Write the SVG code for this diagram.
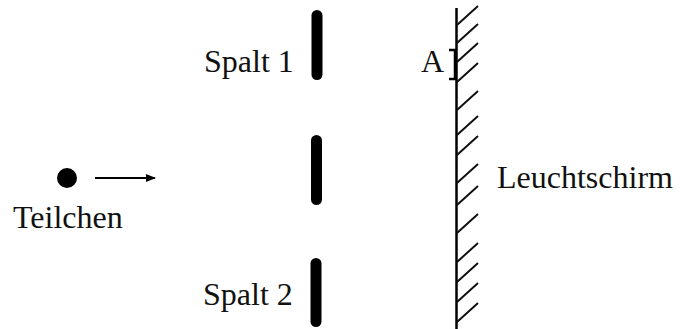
<svg xmlns="http://www.w3.org/2000/svg" width="680" height="329" viewBox="0 0 680 329">
<defs>
<style>
.t{font-family:"Liberation Serif","Times New Roman",serif;font-size:32px;fill:#111}
.slit{stroke:#000;stroke-width:11;stroke-linecap:round}
.h{stroke:#111;stroke-width:2;fill:none}
</style>
<marker id="ah" markerWidth="10" markerHeight="8" refX="9" refY="4" orient="auto" markerUnits="userSpaceOnUse">
<path d="M0,0 L10,4 L0,8 z" fill="#000"/>
</marker>
</defs>
<rect width="680" height="329" fill="#fff"/>
<g id="teilchen">
<circle cx="67" cy="178" r="10" fill="#000"/>
<text class="t" x="13" y="228">Teilchen</text>
</g>
<g id="spalt1">
<line class="slit" x1="317" y1="15.5" x2="317" y2="74.5"/>
<text class="t" x="204" y="72">Spalt 1</text>
</g>
<g id="mitte">
<line class="slit" x1="316.5" y1="140.5" x2="316.5" y2="199.5"/>
</g>
<g id="spalt2">
<line class="slit" x1="316" y1="263.5" x2="316" y2="321.5"/>
<text class="t" x="203" y="305">Spalt 2</text>
</g>
<g id="schirm">
<line x1="456.5" y1="8" x2="456.5" y2="329" stroke="#000" stroke-width="2.5"/>
<path class="h" d="M457,25 l21,-19 M457,43 l21,-19 M457,62 l21,-19 M457,82 l21,-19 M457,110 l21,-19 M457,135 l21,-19 M457,155 l21,-19 M457,183 l21,-19 M457,205 l21,-19 M457,233 l21,-19 M457,262 l21,-19 M457,282 l21,-19 M457,302 l21,-19 M457,322 l21,-19"/>
<text class="t" x="497" y="188">Leuchtschirm</text>
</g>
<g id="A">
<text class="t" x="421" y="72">A</text>
<path d="M449,50 H455 V79 H449" fill="none" stroke="#000" stroke-width="2.5"/>
</g>
<g id="connectors">
<line x1="95" y1="178" x2="155" y2="178" stroke="#000" stroke-width="2" marker-end="url(#ah)"/>
</g>
</svg>
